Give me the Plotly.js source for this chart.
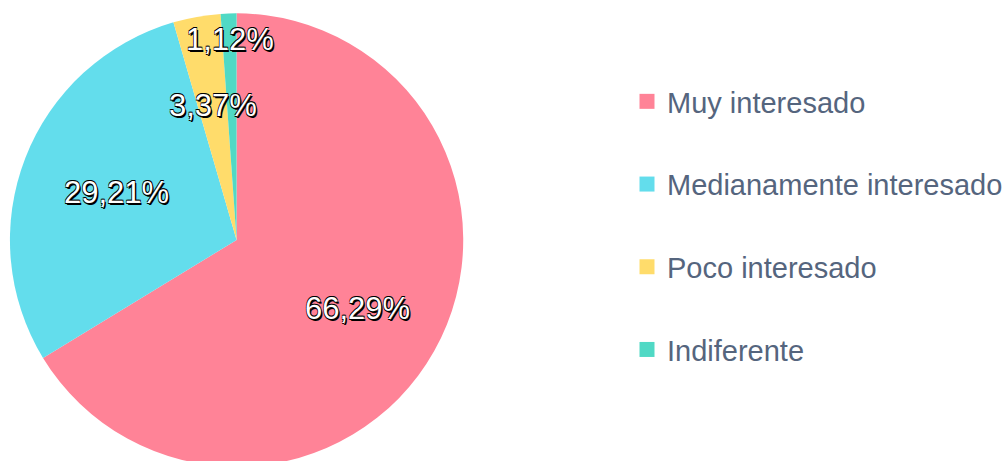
<!DOCTYPE html>
<html>
<head>
<meta charset="utf-8">
<script src="https://cdn.plot.ly/plotly-3.0.1.min.js"></script>
<style>
html, body { margin: 0; padding: 0; overflow: hidden; background: #fff; }
#chart { width: 1008px; height: 480px; }
</style>
</head>
<body>
<div id="chart"></div>
<script>
const categories = ["Muy interesado", "Medianamente interesado", "Poco interesado", "Indiferente"];
const counts = [59, 26, 3, 1];
const colors = ["#FF8397", "#63DDEC", "#FFDC6B", "#50D9C5"];
// radial position of each percentage label, as a fraction of the radius
const labelRadius = [0.61, 0.57, 0.6, 0.88];

const W = 1008, H = 480;
const pieBox = { x0: 10, x1: 466, y0: 12, y1: 468 }; // pixels from top-left
const cx = (pieBox.x0 + pieBox.x1) / 2, cy = (pieBox.y0 + pieBox.y1) / 2;
const R = (pieBox.x1 - pieBox.x0) / 2;

const pie = {
  type: "pie",
  labels: categories,
  values: counts,
  sort: false,
  direction: "clockwise",
  rotation: 0,
  marker: { colors: colors, line: { width: 0 } },
  textinfo: "none",
  hoverinfo: "none",
  showlegend: false,
  domain: { x: [pieBox.x0 / W, pieBox.x1 / W], y: [1 - pieBox.y1 / H, 1 - pieBox.y0 / H] }
};

const legendTraces = categories.map((c, i) => ({
  type: "scatter",
  mode: "markers",
  x: [null],
  y: [null],
  name: c,
  legendgroup: "g" + i,
  marker: { symbol: "square", size: 15, color: colors[i] },
  showlegend: true,
  hoverinfo: "none"
}));

// percentage labels placed at the middle angle of each slice
const total = counts.reduce((a, b) => a + b, 0);
const fmt = v => (Math.round(v * 10000) / 100).toFixed(2).replace(".", ",") + "%";
let cum = 0;
const annotations = counts.map((v, i) => {
  const frac = v / total;
  const mid = (cum + frac / 2) * 2 * Math.PI;
  cum += frac;
  const r = labelRadius[i] * R;
  const px = cx + r * Math.sin(mid);
  const py = cy - r * Math.cos(mid);
  return {
    xref: "paper", yref: "paper",
    x: px / W, y: 1 - py / H,
    xanchor: "center", yanchor: "middle",
    showarrow: false,
    text: fmt(frac),
    font: {
      family: "Liberation Sans, Arial, sans-serif",
      size: 31,
      color: "#ffffff",
      shadow: "1.5px 1.5px 0px #000, -0.6px -0.6px 0px #000, 0.6px -0.6px 0px #000, -0.6px 0.6px 0px #000"
    }
  };
});

const layout = {
  width: W,
  height: H,
  margin: { l: 0, r: 0, t: 0, b: 0 },
  paper_bgcolor: "#ffffff",
  plot_bgcolor: "#ffffff",
  xaxis: { visible: false, domain: [0.99, 1] },
  yaxis: { visible: false, domain: [0.99, 1] },
  annotations: annotations,
  showlegend: true,
  legend: {
    x: 631 / W,
    xanchor: "left",
    y: 1 - 76 / H,
    yanchor: "top",
    tracegroupgap: 42,
    font: { family: "Liberation Sans, Arial, sans-serif", size: 29, color: "#55657e" },
    bgcolor: "rgba(0,0,0,0)",
    itemclick: false,
    itemdoubleclick: false
  }
};

Plotly.newPlot("chart", [pie].concat(legendTraces), layout, { displayModeBar: false, staticPlot: true });
</script>
</body>
</html>
